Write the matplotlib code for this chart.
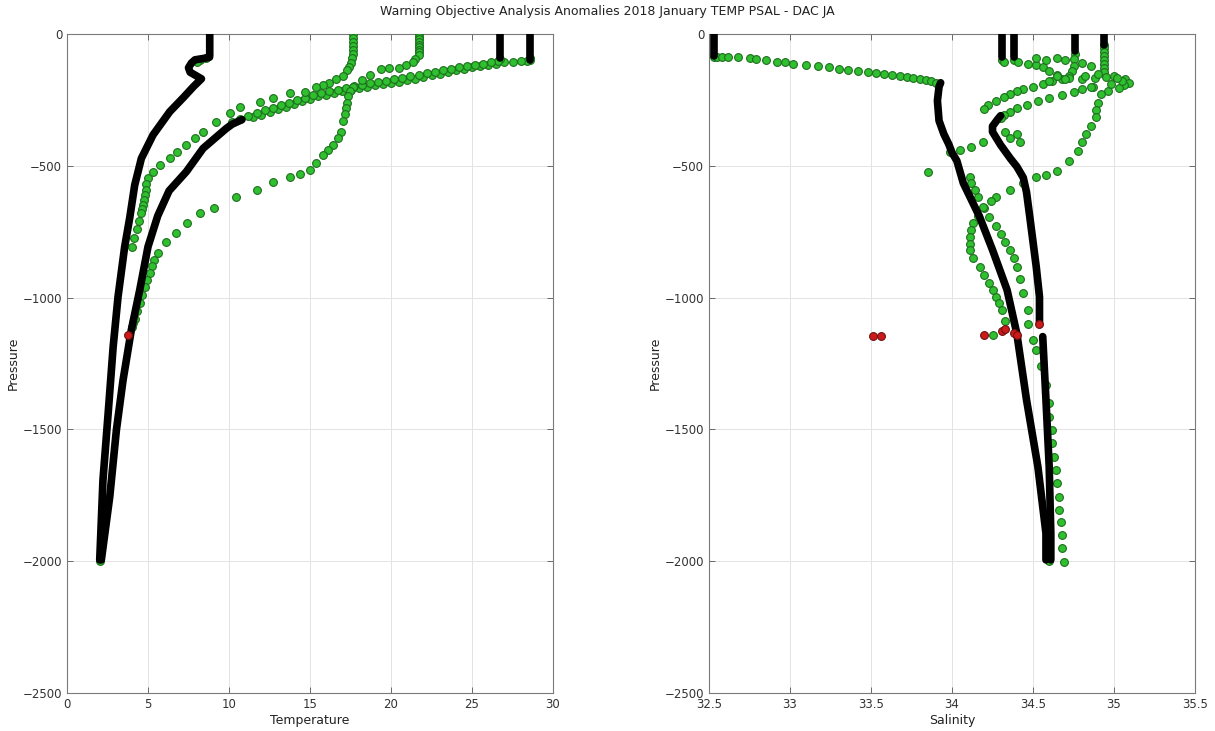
import numpy as np
import matplotlib.pyplot as plt

plt.rcParams['font.family'] = ['DejaVu Sans']

# ---------------- Temperature panel data (T, pressure) ----------------
# black profile starting at 8.8 degC
blk88_t = [8.81, 8.81, 8.81, 8.8, 8.5, 7.9, 7.68, 7.5, 7.6, 8.3, 7.8, 7.2, 6.34, 5.31,
           4.59, 4.18, 3.87, 3.56, 3.15, 2.85, 2.54, 2.22, 2.02]
blk88_p = [0, -40, -80, -88, -92, -98, -110, -128, -145, -170, -200, -240, -295, -383,
           -472, -573, -698, -807, -997, -1186, -1439, -1692, -1995]
# black deep profile below the thermocline band
blkdeep_t = [10.8, 10.2, 9.84, 8.4, 7.37, 6.3, 5.6, 5.0, 4.49, 3.97, 3.46, 3.05, 2.64, 2.12]
blkdeep_p = [-325, -342, -358, -434, -522, -595, -690, -807, -971, -1123, -1313, -1502, -1755, -1995]
# black surface layers
blk267_t = [26.7, 26.7, 26.7]
blk267_p = [0, -50, -92]
blk286_t = [28.6, 28.6, 28.6]
blk286_p = [0, -50, -100]

# green thermocline band (two floats)
band_a_t = [28.6, 28.55, 28.4, 28.0, 27.5, 27.0, 26.5, 26.0, 25.5, 25.0, 24.5, 24.0, 23.5,
            23.0, 22.5, 22.0, 21.5, 21.0, 20.5, 20.0, 19.5, 19.0, 18.5, 18.0, 17.5, 17.0,
            16.5, 16.0, 15.5, 15.0, 14.5, 14.0, 13.5, 13.0, 12.5, 12.0, 11.5]
band_a_p = [-92, -98, -101, -103, -105, -108, -113, -117, -122, -127, -132, -138, -144,
            -150, -157, -163, -169, -175, -181, -186, -191, -195, -200, -206, -211, -217,
            -224, -230, -237, -245, -254, -265, -276, -286, -296, -306, -316]
band_b_t = [26.7, 26.6, 26.2, 25.7, 25.2, 24.7, 24.2, 23.7, 23.2, 22.7, 22.2, 21.7, 21.2,
            20.7, 20.2, 19.7, 19.2, 18.7, 18.2, 17.7, 17.2, 16.7, 16.2, 15.7, 15.2, 14.7,
            14.2, 13.7, 13.2, 12.7, 12.2, 11.7, 11.2, 10.7, 10.2]
band_b_p = [-95, -103, -108, -112, -116, -121, -126, -131, -137, -143, -149, -155, -161,
            -167, -172, -177, -182, -187, -193, -199, -205, -211, -218, -225, -233, -241,
            -250, -260, -270, -280, -290, -300, -311, -322, -334]
# green float starting at 21.7 degC
g217_t = [21.7, 21.7, 21.7, 21.7, 21.7, 21.7, 21.7, 21.7, 21.7, 21.5, 21.35, 20.9, 20.5,
          19.9, 19.4, 18.7, 18.2, 17.65, 17.45, 17.35, 17.3, 17.24, 17.15, 17.05, 16.9,
          16.7, 16.4, 16.1, 15.8, 15.4, 15.0, 14.4, 13.75, 12.7, 11.7, 10.46, 9.1, 8.2,
          7.4, 6.75, 6.14, 5.62, 5.4, 5.25, 5.1, 4.95, 4.8, 4.65, 4.5, 4.35, 4.2, 4.1, 4.0]
g217_p = [0, -10, -20, -30, -40, -50, -60, -70, -80, -95, -105, -118, -128, -130, -133,
          -156, -175, -200, -215, -235, -260, -282, -305, -330, -371, -395, -421, -440,
          -459, -490, -515, -530, -541, -560, -592, -620, -660, -678, -718, -756, -788,
          -832, -857, -880, -905, -932, -960, -990, -1020, -1050, -1080, -1095, -1110]
# green float starting at 17.7 degC
g177_t = [17.65, 17.65, 17.65, 17.65, 17.65, 17.65, 17.6, 17.55, 17.4, 17.3, 17.04, 16.6,
          16.2, 15.8, 15.4, 14.67, 13.75, 12.72, 11.9, 10.66, 10.04, 9.22, 8.4, 7.9, 7.37,
          6.8, 6.34, 5.72, 5.3, 5.0, 4.9, 4.85, 4.8, 4.75, 4.7, 4.62, 4.55, 4.42, 4.3, 4.15, 4.0]
g177_p = [0, -15, -30, -45, -60, -75, -90, -110, -125, -137, -158, -172, -187, -195, -200,
          -219, -225, -244, -257, -276, -301, -333, -371, -395, -421, -448, -472, -497,
          -522, -545, -570, -590, -610, -630, -650, -665, -680, -710, -740, -775, -807]
# extra green points near the 8.8 degC step and at the bottom
gmisc_t = [8.6, 8.2, 8.0, 2.05]
gmisc_p = [-92, -97, -105, -2000]
# flagged temperature value
red_t = [3.77]
red_tp = [-1142]

# ---------------- Salinity panel data (S, pressure) ----------------
blks1_s = [32.53, 32.53, 32.53]
blks1_p = [0, -40, -82]
blks1b_s = [33.93, 33.92, 33.91, 33.92, 33.95, 33.98, 34.0, 34.03, 34.07, 34.17, 34.25,
            34.34, 34.40, 34.46, 34.53, 34.58, 34.58]
blks1b_p = [-185, -200, -253, -329, -380, -418, -450, -481, -566, -693, -819, -971,
            -1136, -1388, -1641, -1894, -1995]
blks2_s = [34.30, 34.28, 34.25, 34.25, 34.30, 34.36, 34.40, 34.44, 34.46, 34.48, 34.52,
           34.54, 34.54]
blks2_p = [-310, -325, -350, -371, -421, -472, -503, -545, -600, -693, -883, -997, -1095]
blks2b_s = [34.56, 34.58, 34.60, 34.61, 34.61]
blks2b_p = [-1148, -1388, -1641, -1894, -1995]
blksurf_s = [34.31, 34.31, 34.38, 34.38, 34.76, 34.76, 34.94, 34.94]
blksurf_p = [0, -86, 0, -86, 0, -63, 0, -40]

gs1_s = [32.53, 32.55, 32.58, 32.62, 32.68, 32.75, 32.79, 32.85, 32.92, 32.97, 33.02,
         33.1, 33.17, 33.24, 33.3, 33.36, 33.42, 33.48, 33.53, 33.58, 33.63, 33.68, 33.72,
         33.76, 33.8, 33.84, 33.87, 33.9]
gs1_p = [-86, -86, -87, -87, -88, -92, -95, -100, -105, -108, -112, -118, -123, -127,
         -131, -135, -139, -143, -147, -151, -155, -159, -163, -167, -171, -175, -180, -185]
gloop_s = [34.94, 34.94, 34.94, 34.94, 34.94, 34.94, 34.94, 34.94, 35.0, 35.07, 35.09,
           35.06, 35.03, 34.96, 34.92, 34.9, 34.89, 34.89, 34.86, 34.83, 34.8, 34.78, 34.72,
           34.65, 34.58, 34.52, 34.44, 34.36, 34.27, 34.24, 34.2, 34.16, 34.13, 34.12,
           34.11, 34.11, 34.11, 34.13, 34.17, 34.2, 34.23, 34.25, 34.27, 34.29, 34.31, 34.33]
gloop_p = [-40, -55, -70, -85, -100, -115, -130, -145, -160, -171, -184, -195, -203, -215,
           -228, -260, -290, -316, -350, -380, -410, -443, -481, -519, -535, -541, -565,
           -592, -617, -635, -660, -690, -718, -745, -770, -795, -819, -850, -883, -915,
           -946, -970, -997, -1022, -1047, -1090]
gmid_s = [34.19, 34.12, 34.05, 33.99, 34.11, 34.12, 34.14, 34.16, 34.19, 34.23, 34.27,
          34.3, 34.33, 34.36, 34.38, 34.40, 34.42, 34.44, 34.47, 34.47, 34.5, 34.52, 34.55,
          34.58, 34.6, 34.6, 34.62, 34.62, 34.63, 34.64, 34.65, 34.66, 34.66, 34.67, 34.68,
          34.68, 34.69]
gmid_p = [-408, -430, -440, -446, -541, -566, -590, -617, -655, -693, -727, -760, -790,
          -819, -850, -883, -930, -984, -1047, -1100, -1161, -1199, -1260, -1330, -1400,
          -1452, -1502, -1553, -1603, -1654, -1705, -1755, -1806, -1850, -1900, -1950, -2002]
gthermo_s = [35.05, 34.98, 34.87, 34.8, 34.75, 34.68, 34.6, 34.53, 34.46, 34.4, 34.36,
             34.32, 34.3]
gthermo_p = [-178, -190, -200, -210, -219, -230, -244, -256, -269, -282, -295, -308, -320]
g76_s = [34.76, 34.75, 34.75, 34.74, 34.72, 34.68, 34.62, 34.56, 34.5, 34.44, 34.4,
         34.36, 34.32, 34.27, 34.22, 34.2]
g76_p = [-75, -95, -120, -140, -160, -170, -180, -190, -200, -209, -218, -228, -240,
         -253, -270, -285]
g38_s = [34.31, 34.32, 34.38, 34.41, 34.47, 34.52, 34.56, 34.6, 34.65, 34.72, 34.8,
         34.88, 34.95, 35.02]
g38_p = [-97, -108, -97, -108, -112, -118, -125, -140, -156, -168, -172, -168, -165, -168]
gclust_s = [34.52, 34.58, 34.65, 34.7, 34.8, 34.86, 34.9, 34.65, 34.7, 34.6, 34.82, 34.86,
            34.33, 34.36, 34.4, 34.42, 33.85, 34.6, 34.25]
gclust_p = [-92, -100, -92, -100, -110, -120, -150, -160, -170, -180, -160, -200,
            -371, -396, -380, -408, -522, -2000, -1140]
reds_s = [33.51, 33.56, 34.20, 34.31, 34.33, 34.38, 34.40, 34.54]
reds_p = [-1145, -1145, -1140, -1125, -1120, -1135, -1142, -1100]

# ---------------- drawing ----------------
fig = plt.figure(figsize=(12.15, 7.31), dpi=100)
ax1 = fig.add_axes([67 / 1215, 38 / 731, 486 / 1215, 659 / 731])
ax2 = fig.add_axes([709 / 1215, 38 / 731, 486 / 1215, 659 / 731])

green = dict(linestyle='none', marker='o', markersize=5.6, markerfacecolor='#2fbf2f',
             markeredgecolor='#1e6f1e', markeredgewidth=0.8, zorder=3)
red = dict(linestyle='none', marker='o', markersize=5.6, markerfacecolor='#cc1a1a',
           markeredgecolor='#6e1010', markeredgewidth=0.8, zorder=5)
black = dict(color='black', linewidth=5.5, solid_capstyle='round',
             solid_joinstyle='round', zorder=4)

# temperature
for t, p in [(band_a_t, band_a_p), (band_b_t, band_b_p), (g217_t, g217_p),
             (g177_t, g177_p), (gmisc_t, gmisc_p)]:
    ax1.plot(t, p, **green)
for t, p in [(blk88_t, blk88_p), (blkdeep_t, blkdeep_p), (blk267_t, blk267_p),
             (blk286_t, blk286_p)]:
    ax1.plot(t, p, **black)
ax1.plot(red_t, red_tp, **red)

# salinity
for s, p in [(gs1_s, gs1_p), (gloop_s, gloop_p), (gmid_s, gmid_p), (gthermo_s, gthermo_p),
             (g76_s, g76_p), (g38_s, g38_p), (gclust_s, gclust_p)]:
    ax2.plot(s, p, **green)
for s, p in [(blks1_s, blks1_p), (blks1b_s, blks1b_p), (blks2_s, blks2_p),
             (blks2b_s, blks2b_p)]:
    ax2.plot(s, p, **black)
for k in range(0, len(blksurf_s), 2):
    ax2.plot(blksurf_s[k:k + 2], blksurf_p[k:k + 2], **black)
ax2.plot(reds_s, reds_p, **red)

for ax, xlim, xticks, xlab in [(ax1, (0, 30), np.arange(0, 31, 5), 'Temperature'),
                               (ax2, (32.5, 35.5), np.arange(32.5, 35.51, 0.5), 'Salinity')]:
    ax.set_xlim(*xlim)
    ax.set_ylim(-2500, 0)
    ax.set_xticks(xticks)
    ax.set_xticklabels([('%g' % v) for v in xticks])
    ax.set_yticks(np.arange(-2500, 1, 500))
    ax.grid(True, color='#e3e3e3', linewidth=0.7)
    ax.set_axisbelow(True)
    ax.tick_params(direction='in', length=4, width=0.6, colors='#555555',
                   labelsize=8.5, labelcolor='#333333', top=True, right=True)
    for sp in ax.spines.values():
        sp.set_color('#7a7a7a')
        sp.set_linewidth(0.8)
    ax.set_xlabel(xlab, fontsize=9, color='#222222', labelpad=2)
    ax.set_ylabel('Pressure', fontsize=9, color='#222222', labelpad=2)

fig.suptitle('Warning Objective Analysis Anomalies 2018 January TEMP PSAL - DAC JA',
             fontsize=9, y=0.993, color='#222222')

fig.savefig('out.png', dpi=100)
